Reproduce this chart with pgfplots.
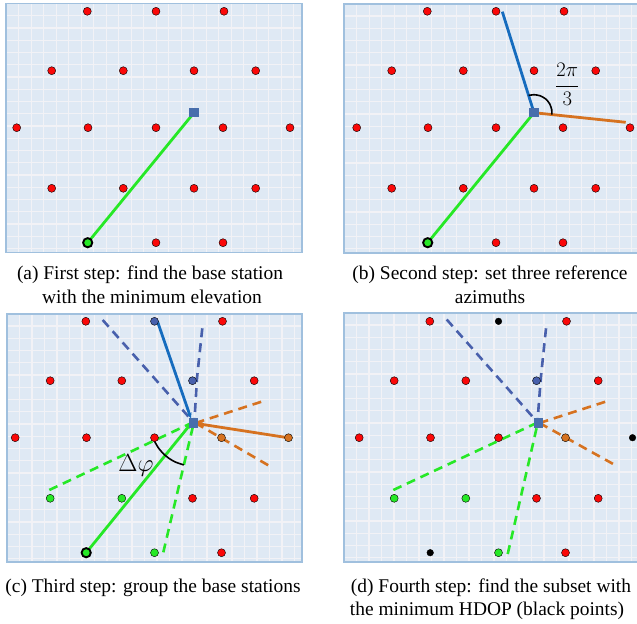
\documentclass[border=0pt]{standalone}
\usepackage{fontspec}
\setmainfont{Liberation Serif}
\usepackage{pgfplots}
\pgfplotsset{compat=1.18}
\usetikzlibrary{arrows.meta}
\definecolor{bgblue}{RGB}{223,233,244}
\definecolor{gridc}{RGB}{242,242,246}
\definecolor{frameblue}{RGB}{160,192,222}
\definecolor{redc}{RGB}{250,8,8}
\definecolor{greenc}{RGB}{38,232,38}
\definecolor{sqblue}{RGB}{72,110,172}
\definecolor{lineblue}{RGB}{22,108,190}
\definecolor{dashblue}{RGB}{72,96,172}
\definecolor{orangec}{RGB}{214,114,32}
\pgfplotsset{
  panel/.style={scale only axis, y dir=reverse,
    axis background/.style={fill=bgblue},
    axis line style={draw=frameblue,line width=1.8bp},
    xticklabels={}, yticklabels={}, major tick length=0pt,
    grid=major, major grid style={draw=gridc,line width=1.1bp},
    anchor=north west},
  reddot/.style={only marks, mark=*, mark size=4bp, mark options={fill=redc,draw=none}},
  dot/.style={only marks, mark=*, mark size=4bp, mark options={fill=#1,draw=none}},
  blackdot/.style={only marks, mark=*, mark size=3.3bp, mark options={fill=black,draw=none}},
  sq/.style={only marks, mark=square*, mark size=4.2bp, mark options={fill=sqblue,draw=sqblue,line width=0pt}},
  startc/.style={only marks, mark=*, mark size=4.6bp, mark options={fill=greenc,draw=black,line width=1.9bp}},
  sline/.style={line width=2.8bp, draw=#1, no marks},
  dline/.style={line width=2.6bp, draw=#1, no marks, dash pattern=on 9bp off 6bp},
  arcl/.style={line width=1.6bp, draw=black, no marks, smooth},
}
\begin{document}
\begin{tikzpicture}[x=1bp,y=1bp]
\path[use as bounding box] (0,0) rectangle (637,-624);
% ---------- (a)
\begin{axis}[panel, at={(6bp,-3.5bp)}, width=296.3bp, height=249bp,
  xmin=6, xmax=302.3, ymin=3.5, ymax=252.5,
  xtick={18.8,31.3,...,300}, ytick={15.7,27.95,...,250}]
\addplot[sline=greenc] coordinates {(87.7,242.7) (194,112.7)};
\addplot[reddot] coordinates {(87.3,11.3) (156,11.3) (224,11.3) (51.7,70.7) (123.3,70.7) (194,70.7) (255.7,70.7) (16.7,127.7) (88,127.7) (156,127.7) (223,127.7) (290,127.7) (51.7,188.3) (123.3,188.3) (194,188.3) (255.7,188.3) (156,242.7) (223,242.7)};
\addplot[startc] coordinates {(87.7,242.7)};
\addplot[sq] coordinates {(194,112.7)};
\end{axis}
% ---------- (b)
\begin{axis}[panel, at={(343.7bp,-4bp)}, width=296.3bp, height=249bp,
  xmin=3.7, xmax=300, ymin=4, ymax=253,
  xtick={16.7,29.2,...,300}, ytick={16,28.25,...,252}]
\addplot[sline=greenc] coordinates {(87.7,242.7) (194,112.7)};
\addplot[sline=lineblue] coordinates {(194,112.7) (162.3,11.7)};
\addplot[sline=orangec] coordinates {(194,112.7) (285.7,122.3)};
\addplot[arcl] coordinates {(188.6,95.5) (194,94.7) (200.2,95.8) (205.6,98.9) (209.6,103.7) (211.7,109.6) (211.9,114.6)};
\addplot[reddot] coordinates {(87.3,11.3) (156,11.3) (224,11.3) (51.7,70.7) (123.3,70.7) (194,70.7) (255.7,70.7) (16.7,127.7) (88,127.7) (156,127.7) (223,127.7) (290,127.7) (51.7,188.3) (123.3,188.3) (194,188.3) (255.7,188.3) (156,242.7) (223,242.7)};
\addplot[startc] coordinates {(87.7,242.7)};
\addplot[sq] coordinates {(194,112.7)};
\node[font=\fontsize{22}{24}\selectfont] at (axis cs:227.3,84.3) {$\displaystyle\frac{2\pi}{3}$};
\end{axis}
% ---------- (c)
\begin{axis}[panel, at={(7bp,-314bp)}, width=295bp, height=248bp,
  xmin=8.5, xmax=303.5, ymin=4, ymax=252,
  xtick={21,33.5,...,303}, ytick={16,28.25,...,252}]
\addplot[dline=dashblue] coordinates {(104.2,10) (193,110)};
\addplot[dline=dashblue] coordinates {(203.8,18.3) (198.5,68) (196,110)};
\addplot[dline=orangec] coordinates {(197,113) (268.2,90)};
\addplot[dline=orangec] coordinates {(197,113) (272.2,156.7)};
\addplot[dline=greenc] coordinates {(50.8,180) (193,113)};
\addplot[dline=greenc] coordinates {(164.8,242.3) (195,114)};
\addplot[sline=lineblue, -{Stealth[length=6bp,width=5bp]}] coordinates {(159,11.5) (192.5,108.5)};
\addplot[sline=orangec, -{Stealth[length=6bp,width=5bp]}] coordinates {(288,127.5) (198,113.5)};
\addplot[sline=greenc, -{Stealth[length=6bp,width=5bp]}] coordinates {(87.7,242.7) (193,113)};
\addplot[arcl] coordinates {(156.0,131.2) (159.8,137.7) (164.6,143.4) (170.3,148.2) (176.8,152.0) (185.3,154.9)};
\addplot[reddot] coordinates {(87.3,11.3) (224,11.3) (51.7,70.7) (123.3,70.7) (255.7,70.7) (16.7,127.7) (88,127.7) (156,127.7) (194,188.3) (255.7,188.3) (223,242.7)};
\addplot[dot=dashblue] coordinates {(156,11.3) (194,70.7)};
\addplot[dot=orangec] coordinates {(223,127.7) (290,127.7)};
\addplot[dot=greenc] coordinates {(51.7,188.3) (123.3,188.3) (156,242.7)};
\addplot[startc] coordinates {(87.7,242.7)};
\addplot[sq] coordinates {(195,113)};
\node[font=\fontsize{25}{28}\selectfont] at (axis cs:137.5,155) {$\Delta\varphi$};
\end{axis}
% ---------- (d)
\begin{axis}[panel, at={(344bp,-313bp)}, width=298.5bp, height=249bp,
  xmin=1.5, xmax=300, ymin=3, ymax=252,
  xtick={14,26.5,...,300}, ytick={15,27.25,...,252}]
\addplot[dline=dashblue] coordinates {(104.2,9.5) (193,110)};
\addplot[dline=dashblue] coordinates {(203.5,18.3) (198.3,68) (195,111)};
\addplot[dline=orangec] coordinates {(197,113) (268.2,90)};
\addplot[dline=orangec] coordinates {(197,113) (272.5,155)};
\addplot[dline=greenc] coordinates {(50.8,180) (194,113)};
\addplot[dline=greenc] coordinates {(165.2,244) (195,114)};
\addplot[reddot] coordinates {(87.3,11.3) (224,11.3) (51.7,70.7) (123.3,70.7) (255.7,70.7) (16.7,127.7) (88,127.7) (156,127.7) (194,188.3) (255.7,188.3) (223,242.7)};
\addplot[blackdot] coordinates {(156,11.3) (290,127.7) (87.7,242.7)};
\addplot[dot=dashblue] coordinates {(194,70.7)};
\addplot[dot=orangec] coordinates {(223,127.7)};
\addplot[dot=greenc] coordinates {(51.7,188.3) (123.3,188.3) (156,242.7)};
\addplot[sq] coordinates {(196,113)};
\end{axis}
% ---------- captions
\begin{scope}[every node/.style={font=\fontsize{19.5}{24}\selectfont, anchor=base, inner sep=0pt}]
\node at (150,-279) {(a) First step: find the base station};
\node at (152,-303) {with the minimum elevation};
\node at (490,-279) {(b) Second step: set three reference};
\node at (490,-303) {azimuths};
\node at (153,-592) {(c) Third step: group the base stations};
\node at (491,-592) {(d) Fourth step: find the subset with};
\node at (487,-615) {the minimum HDOP (black points)};
\end{scope}
\end{tikzpicture}
\end{document}
